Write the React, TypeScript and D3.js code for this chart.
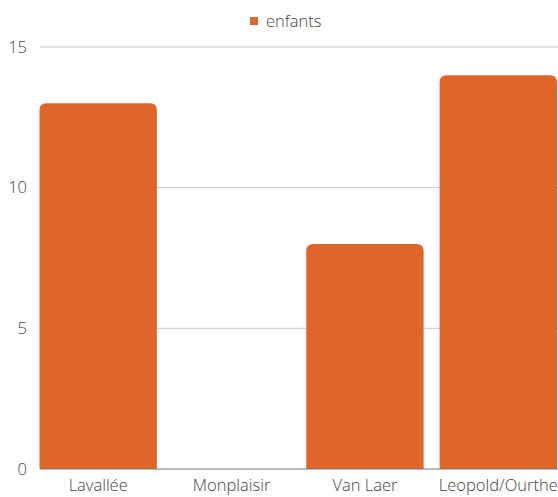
import React from "react";
import * as d3 from "d3";

const categories = ["Lavallée", "Monplaisir", "Van Laer", "Leopold/Ourthe"];
const enfants = [13, 0, 8, 14];
const yTicks = [0, 5, 10, 15];
const seriesName = "enfants";

const W = 558, H = 497;
const COLOR = "#e0652b";
const FONT = "'Open Sans', 'Noto Sans', sans-serif";
const FS = 16.5;

function roundedTopBar(x: number, y: number, w: number, h: number, r: number) {
  if (h <= 0) return "";
  const rr = Math.min(r, h, w / 2);
  return `M${x},${y + h} L${x},${y + rr} Q${x},${y} ${x + rr},${y} L${x + w - rr},${y} Q${x + w},${y} ${x + w},${y + rr} L${x + w},${y + h} Z`;
}

export default function App() {
  const x = d3.scaleBand<string>().domain(categories).range([31.5, 565]).paddingInner(0.12).paddingOuter(0.06);
  const y = d3.scaleLinear().domain([0, 15]).range([469, 47]);
  const gx0 = 40, gx1 = 558;
  return (
    <svg width={W} height={H} style={{ position: "absolute", left: 0, top: 0 }} fontFamily={FONT} fontWeight={300}>
      <rect width={W} height={H} fill="#fff" />
      {yTicks.map((t) => (
        <g key={t}>
          {t !== 0 && <line x1={gx0} x2={gx1} y1={y(t)} y2={y(t)} stroke="#c8c8c8" strokeWidth={1} />}
          <text x={27} y={y(t)} dy="0.35em" textAnchor="end" fontSize={FS} fill="#444">{t}</text>
        </g>
      ))}
      {categories.map((c, i) => (
        <path key={c} d={roundedTopBar(x(c)!, y(enfants[i]), x.bandwidth(), y(0) - y(enfants[i]), 7)} fill={COLOR} />
      ))}
      <line x1={gx0} x2={gx1} y1={y(0)} y2={y(0)} stroke="#777" strokeWidth={1} />
      {categories.map((c) => (
        <text key={c} x={x(c)! + x.bandwidth() / 2} y={491} textAnchor="middle" fontSize={FS} fill="#444">{c}</text>
      ))}
      <rect x={250} y={17} width={8} height={8} fill={COLOR} />
      <text x={266} y={21} dy="0.35em" fontSize={FS} fill="#444">{seriesName}</text>
    </svg>
  );
}
